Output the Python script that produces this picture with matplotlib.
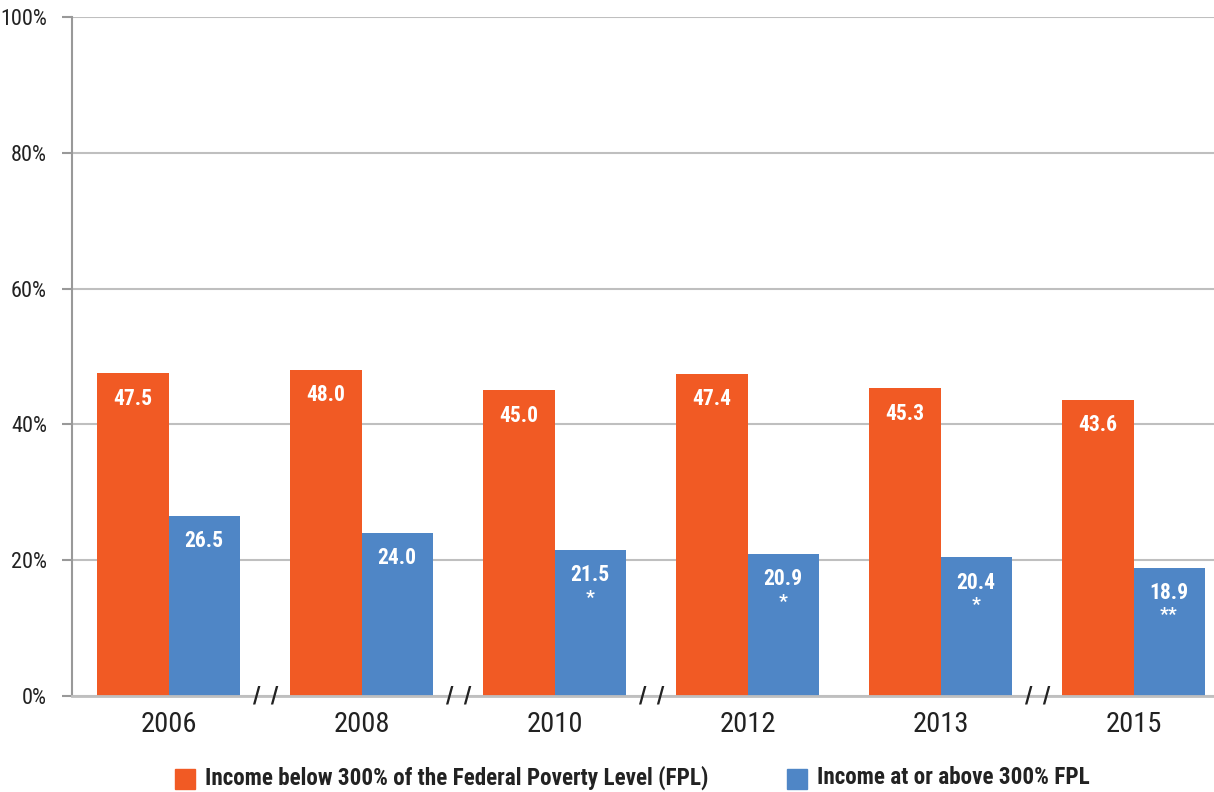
import matplotlib

matplotlib.use("Agg")
import matplotlib.pyplot as plt
import numpy as np
from matplotlib.patches import Rectangle

plt.rcParams["font.family"] = ["Roboto Condensed", "Liberation Sans", "DejaVu Sans"]

YEARS = ["2006", "2008", "2010", "2012", "2013", "2015"]
BELOW_300 = [47.5, 48.0, 45.0, 47.4, 45.3, 43.6]
ABOVE_300 = [26.5, 24.0, 21.5, 20.9, 20.4, 18.9]
ABOVE_MARKS = ["", "", "*", "*", "*", "**"]
BREAK_AFTER = [0, 1, 2, 4]  # axis breaks between these categories and the next
LABELS = ["Income below 300% of the Federal Poverty Level (FPL)", "Income at or above 300% FPL"]
ORANGE = "#F15A24"
BLUE = "#4F86C6"
GRID = "#BFBFBF"

fig = plt.figure(figsize=(12.14, 7.92), dpi=100)
ax = fig.add_axes([72 / 1214, 1 - 696 / 792, 1 - 72 / 1214, (696 - 17) / 792])

x = np.arange(len(YEARS))
w = 0.368
ax.bar(x - w / 2, BELOW_300, width=w, color=ORANGE, zorder=3)
ax.bar(x + w / 2, ABOVE_300, width=w, color=BLUE, zorder=3)

for xi, v in zip(x, BELOW_300):
    ax.text(xi - w / 2, v - 3.7, f"{v:.1f}", ha="center", va="center", color="white",
            fontsize=15.5, fontweight="bold", zorder=4)
for xi, v, m in zip(x, ABOVE_300, ABOVE_MARKS):
    ax.text(xi + w / 2, v - 3.7, f"{v:.1f}", ha="center", va="center", color="white",
            fontsize=15.5, fontweight="bold", zorder=4)
    if m:
        ax.text(xi + w / 2, v - 7.0, m, ha="center", va="center", color="white",
                fontsize=14, fontweight="bold", zorder=4)

# axis break marks
for b in BREAK_AFTER:
    ax.text(b + 0.5, 0, "/  /", ha="center", va="center", fontsize=17, fontweight="bold",
            color="#222222", zorder=5, clip_on=False)

ax.set_xlim(-0.5, 5.417)
ax.set_ylim(0, 100)
ax.set_yticks(range(0, 101, 20))
ax.set_yticklabels([f"{t}%" for t in range(0, 101, 20)], fontsize=16, color="#222222")
ax.set_xticks(x)
ax.set_xticklabels(YEARS, fontsize=20.5, color="#222222")
ax.tick_params(axis="x", length=0, pad=11)
ax.tick_params(axis="y", length=7, width=1.5, color="#999999", pad=11)
ax.yaxis.grid(True, color=GRID, lw=1.5, zorder=0)
for s in ["top", "right"]:
    ax.spines[s].set_visible(False)
ax.spines["left"].set_color("#999999")
ax.spines["left"].set_linewidth(1.5)
ax.spines["bottom"].set_color(GRID)
ax.spines["bottom"].set_linewidth(2)
ax.spines["bottom"].set_zorder(4)

# legend drawn manually at the bottom
for px, col, lab in [(175, ORANGE, LABELS[0]), (787, BLUE, LABELS[1])]:
    fig.patches.append(Rectangle((px / 1214, 1 - 789 / 792), 20 / 1214, 20 / 792,
                                 transform=fig.transFigure, color=col))
    fig.text((px + 30) / 1214, 1 - 778 / 792, lab, ha="left", va="center", fontsize=16.7,
             fontweight="bold", color="#222222")

fig.savefig("out.png", dpi=100)
